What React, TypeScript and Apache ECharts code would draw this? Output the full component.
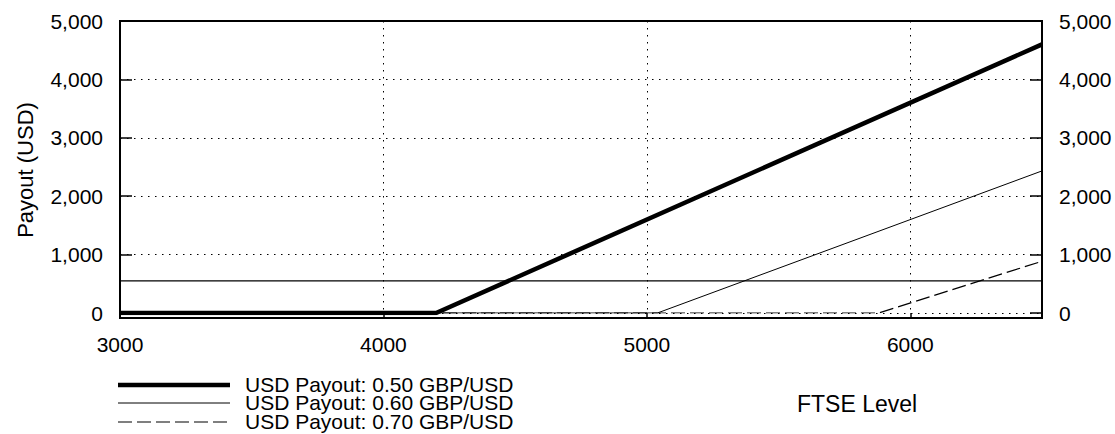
import React, { useEffect, useRef } from "react";
import * as echarts from "echarts";

// ---- data ----
const xRange = [3000, 6500];
const yRange = [0, 5000];
const seriesNames = [
  "USD Payout: 0.50 GBP/USD",
  "USD Payout: 0.60 GBP/USD",
  "USD Payout: 0.70 GBP/USD",
];
const payout050 = [
  [3000, 0],
  [4200, 0],
  [6500, 4600],
];
const payout060 = [
  [3000, 0],
  [5040, 0],
  [6500, 2433],
];
const payout070 = [
  [3000, 0],
  [5880, 0],
  [6500, 886],
];
const referenceLevel = [
  [3000, 550],
  [6500, 550],
];
const xAxisTitle = "FTSE Level";
const yAxisTitle = "Payout (USD)";

const FONT = "'Liberation Sans', Arial, Helvetica, sans-serif";

export default function App() {
  const ref = useRef<HTMLDivElement>(null);

  useEffect(() => {
    if (!ref.current) return;
    const chart = echarts.init(ref.current, null, { renderer: "svg" });
    const fmt = (v: number) => v.toLocaleString("en-US");
    const dotted = { color: "#000", width: 1, type: [1.5, 5.5] as any };

    const lineStyles = [
      { color: "#000", width: 4.5, type: "solid" as any },
      { color: "#000", width: 1, type: "solid" as any },
      { color: "#000", width: 1.2, type: [14, 5] as any },
    ];
    const legendY = [385, 403, 422];

    const option: any = {
      animation: false,
      backgroundColor: "#fff",
      textStyle: { fontFamily: FONT },
      grid: [
        {
          left: 120,
          top: 21,
          width: 922,
          height: 297,
          show: true,
          borderColor: "#000",
          borderWidth: 2,
          backgroundColor: "transparent",
          containLabel: false,
        },
        { left: 120, top: 21, width: 922, height: 292, containLabel: false },
      ],
      xAxis: [
        {
          gridIndex: 0,
          type: "value",
          min: xRange[0],
          max: xRange[1],
          interval: 1000,
          axisLine: { show: false },
          axisTick: {
            show: true,
            inside: true,
            length: 5,
            lineStyle: { color: "#000", width: 1.5 },
          },
          axisLabel: {
            show: true,
            fontSize: 21,
            color: "#000",
            margin: 16,
            fontFamily: FONT,
            showMaxLabel: false,
            formatter: (v: number) => String(v),
          },
          splitLine: { show: false },
        },
        {
          gridIndex: 1,
          type: "value",
          min: xRange[0],
          max: xRange[1],
          interval: 1000,
          axisLine: { show: false },
          axisTick: { show: false },
          axisLabel: { show: false },
          splitLine: { show: true, lineStyle: dotted },
        },
      ],
      yAxis: [
        { gridIndex: 0, type: "value", min: 0, max: 1, show: false },
        {
          gridIndex: 1,
          type: "value",
          position: "left",
          min: yRange[0],
          max: yRange[1],
          interval: 1000,
          axisLine: { show: false },
          axisTick: {
            show: true,
            inside: true,
            length: 12,
            lineStyle: { color: "#000", width: 1.5 },
          },
          axisLabel: {
            fontSize: 21,
            color: "#000",
            margin: 17,
            fontFamily: FONT,
            formatter: fmt,
          },
          splitLine: { show: true, lineStyle: dotted },
        },
        {
          gridIndex: 1,
          type: "value",
          position: "right",
          min: yRange[0],
          max: yRange[1],
          interval: 1000,
          axisLine: { show: false },
          axisTick: {
            show: true,
            inside: true,
            length: 12,
            lineStyle: { color: "#000", width: 1.5 },
          },
          axisLabel: {
            fontSize: 21,
            color: "#000",
            margin: 17,
            fontFamily: FONT,
            formatter: fmt,
          },
          splitLine: { show: false },
        },
      ],
      series: [
        {
          name: "reference",
          type: "line",
          xAxisIndex: 1,
          yAxisIndex: 1,
          data: referenceLevel,
          symbol: "none",
          lineStyle: { color: "#000", width: 1.2 },
          z: 3,
        },
        ...[payout050, payout060, payout070].map((d, i) => ({
          name: seriesNames[i],
          type: "line",
          xAxisIndex: 1,
          yAxisIndex: 1,
          data: d,
          symbol: "none",
          lineStyle: lineStyles[i],
          z: 4 + i,
        })),
      ],
      graphic: [
        ...seriesNames.flatMap((name, i) => [
          {
            type: "line",
            shape: { x1: 118, y1: legendY[i], x2: 230, y2: legendY[i] },
            style: {
              stroke: "#000",
              lineWidth: lineStyles[i].width,
              lineDash: Array.isArray(lineStyles[i].type)
                ? lineStyles[i].type
                : null,
            },
          },
          {
            type: "text",
            x: 245,
            y: legendY[i] - 1,
            style: {
              text: name,
              fontSize: 21,
              lineHeight: 17,
              fontFamily: FONT,
              fill: "#000",
              align: "left",
              verticalAlign: "middle",
            },
          },
        ]),
        {
          type: "text",
          x: 797,
          y: 404,
          style: {
            text: xAxisTitle,
            fontSize: 23,
            fontFamily: FONT,
            fill: "#000",
            align: "left",
            verticalAlign: "middle",
          },
        },
        {
          type: "text",
          x: 25,
          y: 170,
          rotation: Math.PI / 2,
          style: {
            text: yAxisTitle,
            fontSize: 22,
            fontFamily: FONT,
            fill: "#000",
            align: "center",
            verticalAlign: "middle",
          },
        },
      ],
    };
    chart.setOption(option);
    return () => chart.dispose();
  }, []);

  return (
    <div
      ref={ref}
      style={{
        position: "fixed",
        left: 0,
        top: 0,
        width: 1115,
        height: 434,
        background: "#fff",
      }}
    />
  );
}
